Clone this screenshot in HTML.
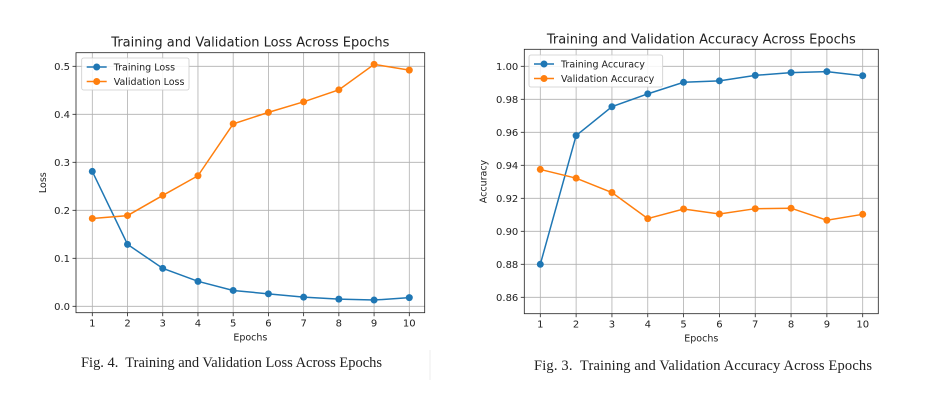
<!DOCTYPE html>
<html><head><meta charset="utf-8"><style>
body{margin:0;background:#fff;width:929px;height:401px;overflow:hidden}
svg{display:block}
.t{font-family:"DejaVu Sans","Liberation Sans",sans-serif;fill:#222}
.cap{font-family:"Liberation Serif",serif;font-size:14.5px;fill:#222;white-space:pre}
</style></head><body>
<svg id="s" width="929" height="401">
<line x1="430" y1="350" x2="430" y2="380" stroke="#eee"/>
<text class="cap" x="81" y="367" textLength="301" lengthAdjust="spacing" xml:space="preserve">Fig. 4.  Training and Validation Loss Across Epochs</text>
<text class="cap" x="534" y="370" textLength="338" lengthAdjust="spacing" xml:space="preserve">Fig. 3.  Training and Validation Accuracy Across Epochs</text>
</svg>
<script>
const epochs=[1,2,3,4,5,6,7,8,9,10];
const lossTrain=[0.281,0.129,0.079,0.052,0.033,0.026,0.019,0.015,0.013,0.018];
const lossVal=[0.183,0.189,0.231,0.272,0.380,0.404,0.426,0.451,0.504,0.492];
const accTrain=[0.880,0.958,0.9755,0.9833,0.9903,0.9912,0.9945,0.9962,0.9968,0.9943];
const accVal=[0.9375,0.9322,0.9235,0.9077,0.9135,0.9105,0.9137,0.9140,0.9067,0.9103];
const lossTicks=[0,0.1,0.2,0.3,0.4,0.5];
const lossTickLabels=["0.0","0.1","0.2","0.3","0.4","0.5"];
const accTicks=[0.86,0.88,0.90,0.92,0.94,0.96,0.98,1.00];
const accTickLabels=["0.86","0.88","0.90","0.92","0.94","0.96","0.98","1.00"];
const NS="http://www.w3.org/2000/svg";
const svg=document.getElementById('s');
function mk(tag,at,parent,txt){const e=document.createElementNS(NS,tag);for(const k in at)e.setAttribute(k,at[k]);if(txt!==undefined)e.textContent=txt;(parent||svg).appendChild(e);return e;}
function chart(c){
  const g=mk('g',{});
  
  
  const sx=v=>c.x1px+(v-1)*(c.x10px-c.x1px)/9;
  const sy=v=>c.y0px+(v-c.y0)*(c.y1px-c.y0px)/(c.y1-c.y0);
  epochs.forEach(e=>{const l=mk('line',{x1:sx(e),x2:sx(e),y1:c.top,y2:c.bot,stroke:'#b0b0b0','stroke-width':0.8},g);
    
    mk('line',{x1:sx(e),x2:sx(e),y1:c.bot,y2:c.bot+3.5,stroke:'#222','stroke-width':0.8},g);
    const t=mk('text',{class:'t',x:sx(e),y:c.bot+14,'font-size':10,'text-anchor':'middle'},g,String(e));
    });
  c.ticks.forEach((v,i)=>{const l=mk('line',{x1:c.left,x2:c.right,y1:sy(v),y2:sy(v),stroke:'#b0b0b0','stroke-width':0.8},g);
    
    mk('line',{x1:c.left-3.5,x2:c.left,y1:sy(v),y2:sy(v),stroke:'#222','stroke-width':0.8},g);
    const t=mk('text',{class:'t',x:c.left-6,y:sy(v)+3.5,'font-size':10,'text-anchor':'end'},g,c.tickLabels[i]);
    });
  const fr=mk('rect',{x:c.left,y:c.top,width:c.right-c.left,height:c.bot-c.top,fill:'none',stroke:'#222','stroke-width':0.8},g);
  
  c.series.forEach(s=>{
    const p=mk('polyline',{points:s.vals.map((v,i)=>sx(epochs[i])+','+sy(v)).join(' '),fill:'none',stroke:s.col,'stroke-width':1.5},g);
    
    s.vals.forEach((v,i)=>{const m=mk('circle',{cx:sx(epochs[i]),cy:sy(v),r:3.5,fill:s.col},g);
      });
  });
  const tt=mk('text',{class:'t',x:(c.left+c.right)/2,y:c.top-6,'font-size':13,'text-anchor':'middle'},g,c.title);
  
  const xl=mk('text',{class:'t',x:(c.left+c.right)/2,y:c.bot+28,'font-size':9.5,'text-anchor':'middle'},g,'Epochs');
  
  const yx=c.left-c.ylOff,yy=(c.top+c.bot)/2;
  const yl=mk('text',{class:'t',x:yx,y:yy,'font-size':9.5,'text-anchor':'middle',transform:`rotate(-90 ${yx} ${yy})`},g,c.ylabel);
  
  const lg=mk('g',{},g);
  
  mk('rect',{x:c.lg[0],y:c.lg[1],width:c.lg[2],height:c.lg[3],rx:2,fill:'#fff','fill-opacity':0.85,stroke:'#ccc','stroke-width':0.8},lg);
  c.series.forEach((s,i)=>{const y=c.lg[1]+9+i*14.5;
    const e=mk('g',{},lg);
    
    mk('line',{x1:c.lg[0]+5,x2:c.lg[0]+25,y1:y,y2:y,stroke:s.col,'stroke-width':1.5},e);
    mk('circle',{cx:c.lg[0]+15,cy:y,r:3.5,fill:s.col},e);
    mk('text',{class:'t',x:c.lg[0]+32,y:y+3.5,'font-size':9.5},e,s.label);});
}
chart({name:'loss-chart',left:76,right:424.7,top:52.7,bot:312.7,x1px:92.3,x10px:409.3,y0:0,y1:0.5,y0px:306.3,y1px:66.3,
  ticks:lossTicks,tickLabels:lossTickLabels,title:'Training and Validation Loss Across Epochs',ylabel:'Loss',ylOff:30,
  lg:[81.7,58,107.3,32],
  series:[{id:'training-loss',vals:lossTrain,col:'#1f77b4',label:'Training Loss'},{id:'validation-loss',vals:lossVal,col:'#ff7f0e',label:'Validation Loss'}]});
chart({name:'accuracy-chart',left:524.3,right:878.3,top:49.3,bot:313.7,x1px:540.3,x10px:862.7,y0:0.86,y1:1.0,y0px:297.3,y1px:66.3,
  ticks:accTicks,tickLabels:accTickLabels,title:'Training and Validation Accuracy Across Epochs',ylabel:'Accuracy',ylOff:38,
  lg:[529,55,133.7,32],
  series:[{id:'training-accuracy',vals:accTrain,col:'#1f77b4',label:'Training Accuracy'},{id:'validation-accuracy',vals:accVal,col:'#ff7f0e',label:'Validation Accuracy'}]});
</script>
</body></html>
